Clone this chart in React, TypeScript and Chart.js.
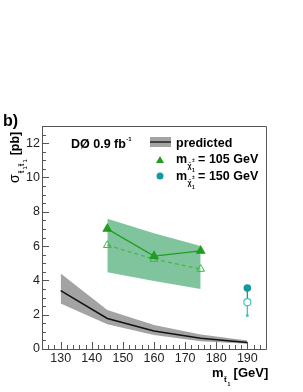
import React, { useEffect, useRef } from 'react';
import { Chart, registerables } from 'chart.js';
Chart.register(...registerables);

const massStop = [130, 145, 160, 175, 190];
const predCentral = [3.4, 1.78, 1.05, 0.62, 0.38];
const predUpper = [4.4, 2.28, 1.4, 0.85, 0.5];
const predLower = [2.65, 1.45, 0.82, 0.45, 0.3];

const mass105 = [145, 160, 175];
const obs105 = [7.0, 5.42, 5.72];
const exp105 = [6.05, 5.24, 4.66];
const band105Upper = [7.6, 6.75, 6.0];
const band105Lower = [4.48, 3.96, 3.5];

const mass150 = [190];
const obs150 = [3.55];
const exp150 = [2.73];
const low150 = [1.95];

const xTicks = [130, 140, 150, 160, 170, 180, 190];
const yTicks = [0, 2, 4, 6, 8, 10, 12];

const FONT = "'Liberation Sans', Arial, sans-serif";
const GREEN = '#1f9e1f';
const GREEN_LIGHT = '#3dbb3d';
const BAND_GREEN = 'rgb(128,196,158)';
const GRAY_BAND = '#a3a3a3';
const TEAL = '#139a9a';
const TEAL_LIGHT = '#3bc4c4';

const pts = (xs: number[], ys: number[]) => xs.map((x, i) => ({ x, y: ys[i] }));

function textRuns(ctx: CanvasRenderingContext2D, x: number, y: number, runs: { t: string; f: string; dy?: number; dx?: number }[]) {
  let cx = x;
  for (const r of runs) {
    ctx.font = r.f;
    cx += r.dx || 0;
    ctx.fillText(r.t, cx, y + (r.dy || 0));
    cx += ctx.measureText(r.t).width;
  }
  return cx;
}

const decor = {
  id: 'decor',
  afterDraw(chart: any) {
    const ctx: CanvasRenderingContext2D = chart.ctx;
    const { left, right, top, bottom } = chart.chartArea;
    const xs = chart.scales.x;
    const ys = chart.scales.y;
    ctx.save();
    // frame
    ctx.strokeStyle = '#555';
    ctx.lineWidth = 1;
    ctx.beginPath();
    ctx.rect(Math.round(left) + 0.5, Math.round(top) + 0.5, Math.round(right - left), Math.round(bottom - top));
    ctx.stroke();
    // ticks
    ctx.beginPath();
    for (let v = 124; v <= 196; v += 2) {
      const px = Math.round(xs.getPixelForValue(v)) + 0.5;
      const len = v % 10 === 0 ? 7 : 4;
      ctx.moveTo(px, bottom);
      ctx.lineTo(px, bottom - len);
    }
    for (let v = 0; v <= 13; v += 0.5) {
      const py = Math.round(ys.getPixelForValue(v)) + 0.5;
      const len = v % 2 === 0 ? 7 : 4;
      ctx.moveTo(left, py);
      ctx.lineTo(left + len, py);
    }
    ctx.stroke();

    ctx.fillStyle = '#000';
    ctx.textBaseline = 'alphabetic';
    ctx.textAlign = 'left';
    // b)
    ctx.font = `bold 16px ${FONT}`;
    ctx.fillText('b)', 3, 126);
    // DØ label
    const e = textRuns(ctx, 71, 148, [{ t: 'DØ 0.9 fb', f: `bold 12.5px ${FONT}` }]);
    textRuns(ctx, e + 0.5, 141, [{ t: '-1', f: `bold 6px ${FONT}` }]);

    // legend
    ctx.fillStyle = GRAY_BAND;
    ctx.fillRect(150, 137, 21, 10);
    ctx.strokeStyle = '#222';
    ctx.lineWidth = 1.5;
    ctx.beginPath();
    ctx.moveTo(150, 142);
    ctx.lineTo(171, 142);
    ctx.stroke();
    ctx.fillStyle = '#000';
    textRuns(ctx, 176, 147, [{ t: 'predicted', f: `bold 12.5px ${FONT}` }]);
    // triangle
    ctx.fillStyle = GREEN;
    ctx.beginPath();
    ctx.moveTo(160, 156);
    ctx.lineTo(164, 163);
    ctx.lineTo(156, 163);
    ctx.closePath();
    ctx.fill();
    ctx.fillStyle = '#000';
    const legendEntry = (yb: number, txt: string) => {
      let x1 = textRuns(ctx, 176, yb, [{ t: 'm', f: `bold 12.5px ${FONT}` }]);
      ctx.font = `bold 7px ${FONT}`;
      ctx.fillText('χ̃', x1 + 0.5, yb + 5);
      ctx.font = `bold 5px ${FONT}`;
      ctx.fillText('±', x1 + 5, yb - 1);
      ctx.fillText('1', x1 + 5, yb + 9);
      textRuns(ctx, x1 + 11, yb, [{ t: txt, f: `bold 12.5px ${FONT}` }]);
    };
    legendEntry(163, '= 105 GeV');
    ctx.fillStyle = TEAL;
    ctx.beginPath();
    ctx.arc(160, 176, 3.5, 0, Math.PI * 2);
    ctx.fill();
    ctx.fillStyle = '#000';
    legendEntry(180, '= 150 GeV');

    // x title
    ctx.fillStyle = '#000';
    let xm = textRuns(ctx, 212, 377, [{ t: 'm', f: `bold 13px ${FONT}` }]);
    ctx.font = `bold 8px ${FONT}`;
    ctx.fillText('t̃', xm + 0.5, 382);
    ctx.font = `bold 5px ${FONT}`;
    ctx.fillText('1', xm + 4, 386);
    textRuns(ctx, xm + 10, 377, [{ t: '[GeV]', f: `bold 13px ${FONT}` }]);

    // y title rotated
    ctx.save();
    ctx.translate(19, 183);
    ctx.rotate(-Math.PI / 2);
    let ya = textRuns(ctx, 0, 0, [{ t: 'σ', f: `14px ${FONT}` }]);
    ctx.font = `bold 8px ${FONT}`;
    ctx.fillText('t̃', ya + 1, 5);
    ctx.font = `bold 5px ${FONT}`;
    ctx.fillText('1', ya + 5, 8);
    ctx.font = `bold 8px ${FONT}`;
    ctx.fillText('t̃', ya + 8, 5);
    ctx.font = `bold 5px ${FONT}`;
    ctx.fillText('1', ya + 12, 8);
    textRuns(ctx, ya + 19, 0, [{ t: '[pb]', f: `bold 12.5px ${FONT}` }]);
    ctx.restore();

    ctx.restore();
  },
};

export default function App() {
  const ref = useRef<HTMLCanvasElement>(null);
  useEffect(() => {
    if (!ref.current) return;
    const chart = new Chart(ref.current, {
      type: 'line',
      data: {
        datasets: [
          {
            data: pts(massStop, predUpper),
            borderColor: 'transparent',
            borderWidth: 0,
            pointRadius: 0,
            backgroundColor: GRAY_BAND,
            fill: '+1',
            order: 10,
          } as any,
          {
            data: pts(massStop, predLower),
            borderColor: 'transparent',
            borderWidth: 0,
            pointRadius: 0,
            fill: false,
            order: 10,
          },
          {
            data: pts(massStop, predCentral),
            borderColor: '#111',
            borderWidth: 1.5,
            pointRadius: 0,
            fill: false,
            order: 5,
          },
          {
            data: pts(mass105, band105Upper),
            borderColor: 'transparent',
            borderWidth: 0,
            pointRadius: 0,
            backgroundColor: BAND_GREEN,
            fill: '+1',
            order: 9,
          } as any,
          {
            data: pts(mass105, band105Lower),
            borderColor: 'transparent',
            borderWidth: 0,
            pointRadius: 0,
            fill: false,
            order: 9,
          },
          {
            data: pts(mass105, exp105),
            borderColor: GREEN_LIGHT,
            borderWidth: 1.2,
            borderDash: [4, 3],
            pointStyle: 'triangle',
            pointRadius: 4.5,
            pointBorderColor: GREEN_LIGHT,
            pointBackgroundColor: 'rgba(0,0,0,0)',
            pointBorderWidth: 1,
            fill: false,
            order: 3,
          },
          {
            data: pts(mass105, obs105),
            borderColor: GREEN,
            borderWidth: 1.3,
            pointStyle: 'triangle',
            pointRadius: 4.5,
            pointBorderColor: GREEN,
            pointBackgroundColor: GREEN,
            fill: false,
            order: 2,
          },
          {
            data: [...pts(mass150, obs150), ...pts(mass150, exp150)],
            borderColor: TEAL,
            borderWidth: 1.3,
            pointRadius: 0,
            fill: false,
            order: 4,
          },
          {
            data: [...pts(mass150, exp150), ...pts(mass150, low150)],
            borderColor: TEAL_LIGHT,
            borderWidth: 1.3,
            pointRadius: [0, 1.5],
            pointBackgroundColor: TEAL_LIGHT,
            pointBorderWidth: 0,
            fill: false,
            order: 4,
          },
          {
            data: pts(mass150, exp150),
            showLine: false,
            pointStyle: 'circle',
            pointRadius: 3.5,
            pointBorderColor: TEAL_LIGHT,
            pointBackgroundColor: '#fff',
            pointBorderWidth: 1.2,
            order: 1,
          },
          {
            data: pts(mass150, obs150),
            showLine: false,
            pointStyle: 'circle',
            pointRadius: 3.8,
            pointBorderColor: TEAL,
            pointBackgroundColor: TEAL,
            pointBorderWidth: 0,
            order: 1,
          },
        ],
      },
      options: {
        animation: false,
        responsive: false,
        devicePixelRatio: 1,
        elements: { line: { tension: 0 } },
        layout: { padding: { top: 126, right: 37, left: 0, bottom: 0 } },
        plugins: { legend: { display: false }, tooltip: { enabled: false } },
        scales: {
          x: {
            type: 'linear',
            min: 124,
            max: 196,
            grid: { display: false, drawTicks: false, tickLength: 0 },
            border: { display: false },
            afterBuildTicks: (s: any) => {
              s.ticks = xTicks.map((v) => ({ value: v }));
            },
            afterFit: (s: any) => {
              s.height = 43;
            },
            ticks: {
              autoSkip: false,
              maxRotation: 0,
              padding: 2,
              color: '#222',
              font: { family: FONT, size: 12.5 },
            },
          },
          y: {
            type: 'linear',
            min: 0,
            max: 13,
            grid: { display: false, drawTicks: false, tickLength: 0 },
            border: { display: false },
            afterBuildTicks: (s: any) => {
              s.ticks = yTicks.map((v) => ({ value: v }));
            },
            afterFit: (s: any) => {
              s.width = 42;
            },
            ticks: {
              autoSkip: false,
              padding: 2,
              color: '#222',
              font: { family: FONT, size: 12.5 },
            },
          },
        },
      },
      plugins: [decor],
    });
    return () => chart.destroy();
  }, []);
  return (
    <canvas
      ref={ref}
      width={303}
      height={392}
      style={{ position: 'fixed', left: 0, top: 0, width: 303, height: 392, background: '#fff' }}
    />
  );
}
